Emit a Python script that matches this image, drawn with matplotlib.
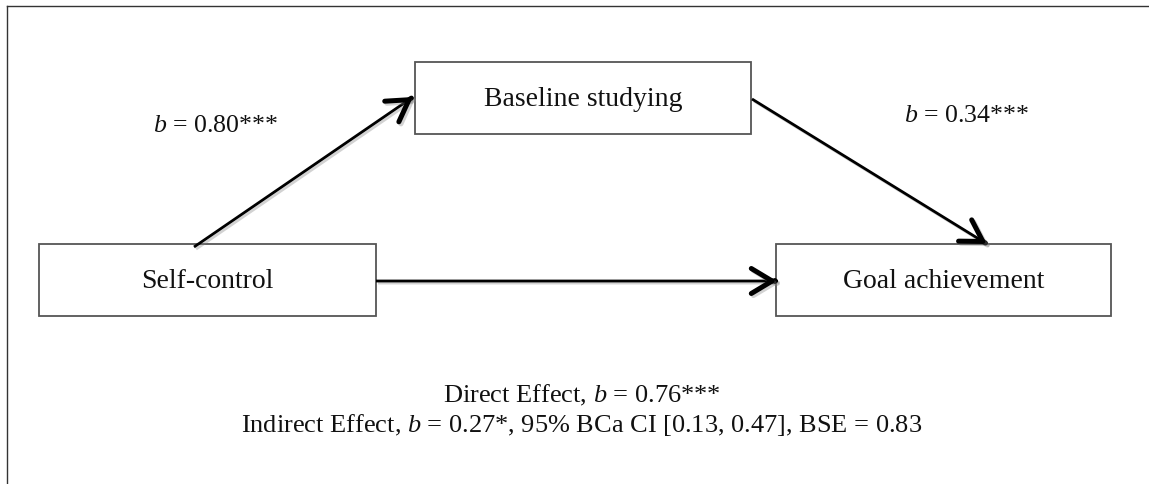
"""
Mediation diagram: self-control -> baseline studying -> goal achievement
"""

import numpy as np
import matplotlib
matplotlib.use('Agg')
import matplotlib.pyplot as plt
from matplotlib.patches import Rectangle, FancyArrowPatch
import matplotlib.patheffects as pe

plt.rcParams['font.family'] = ['Liberation Serif', 'DejaVu Serif']
plt.rcParams['mathtext.fontset'] = 'custom'
plt.rcParams['mathtext.rm'] = 'Liberation Serif'
plt.rcParams['mathtext.it'] = 'Liberation Serif:italic'

# ============================================================
# DATA
# ============================================================
node_names = ["Self-control", "Baseline studying", "Goal achievement"]
path_a = 0.80
path_b = 0.34
path_a_sig = "***"
path_b_sig = "***"
direct_effect = 0.76
direct_sig = "***"
indirect_effect = 0.27
indirect_sig = "*"
ci_low, ci_high = 0.13, 0.47
bse = 0.83

# ============================================================
# LAYOUT (pixel coordinates of the 1149x485 canvas)
# ============================================================
W, H = 1149, 485
boxes = {
    "Self-control": (39, 245, 337, 72),
    "Baseline studying": (415, 63, 336, 72),
    "Goal achievement": (776, 245, 335, 72),
}

fig = plt.figure(figsize=(W / 100, H / 100), dpi=100)
ax = fig.add_axes([0, 0, 1, 1])
ax.set_xlim(0, W)
ax.set_ylim(H, 0)
ax.axis('off')

# outer frame (only top and left edges visible)
ax.plot([7, W], [7, 7], color='#333333', lw=1)
ax.plot([7, 7], [7, H], color='#333333', lw=1)

for name in node_names:
    x, y, w, h = boxes[name]
    ax.add_patch(Rectangle((x, y), w, h, facecolor='white', edgecolor='#555555', lw=1.3))
    ax.text(x + w / 2, y + h / 2 + 1, name, ha='center', va='center', fontsize=20, color='#111111')

shadow = [pe.SimpleLineShadow(offset=(1.5, -1.5), shadow_color='gray', alpha=0.35), pe.Normal()]

arrows = [
    ((194, 248), (413, 98)),
    ((752, 100), (987, 245)),
    ((376, 282), (777, 282)),
]
for start, end in arrows:
    # shaft
    shaft = FancyArrowPatch(start, end, arrowstyle='-', color='black', lw=2.0,
                            shrinkA=0, shrinkB=0, capstyle='butt')
    shaft.set_path_effects(shadow)
    ax.add_patch(shaft)
    # bold open head
    d = np.array(end, float) - np.array(start, float)
    d /= np.hypot(*d)
    tail = tuple(np.array(end, float) - d * 2)
    head = FancyArrowPatch(tail, end, arrowstyle='->,head_length=0.75,head_width=0.45',
                           mutation_scale=20, color='black', lw=3.6,
                           shrinkA=0, shrinkB=0, capstyle='round', joinstyle='round')
    head.set_path_effects(shadow)
    ax.add_patch(head)

ax.text(216, 126, f"$b$ = {path_a:.2f}{path_a_sig}", ha='center', va='center',
        fontsize=18.6, color='#111111')
ax.text(967, 116, f"$b$ = {path_b:.2f}{path_b_sig}", ha='center', va='center',
        fontsize=18.6, color='#111111')

ax.text(582, 395, f"Direct Effect, $b$ = {direct_effect:.2f}{direct_sig}",
        ha='center', va='center', fontsize=19, color='#111111')
ax.text(582, 425,
        f"Indirect Effect, $b$ = {indirect_effect:.2f}{indirect_sig}, 95% BCa CI "
        f"[{ci_low:.2f}, {ci_high:.2f}], BSE = {bse:.2f}",
        ha='center', va='center', fontsize=19, color='#111111')

plt.savefig('out.png', dpi=100)
